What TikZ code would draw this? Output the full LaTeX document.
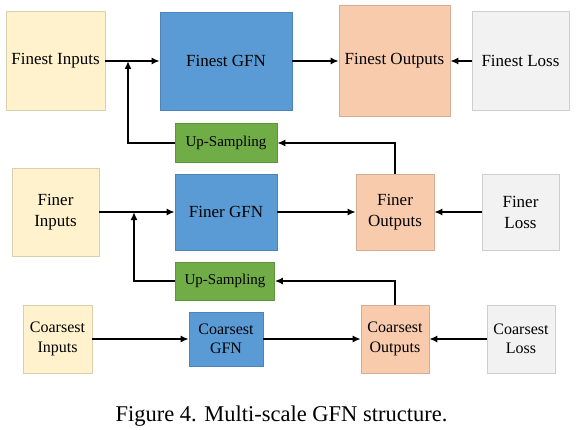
\documentclass[tikz,border=0pt]{standalone}
\usepackage{fontspec}
\setmainfont{Liberation Serif}
\usetikzlibrary{arrows.meta}
\definecolor{inputcol}{HTML}{FFF2CC}
\definecolor{gfncol}{HTML}{5B9BD5}
\definecolor{outcol}{HTML}{F8CBAD}
\definecolor{losscol}{HTML}{F2F2F2}
\definecolor{upcol}{HTML}{70AD47}
\begin{document}
\begin{tikzpicture}[
    x=1pt, y=-1pt,
    every node/.style={align=center, inner sep=0pt, font=\fontsize{17}{21}\selectfont},
    box/.style={draw=#1!85!black, line width=0.6pt, fill=#1},
    inbox/.style={box=inputcol},
    gfnbox/.style={box=gfncol},
    outbox/.style={box=outcol},
    lossbox/.style={box=losscol},
    upbox/.style={box=upcol, font=\fontsize{15}{18}\selectfont},
    small/.style={font=\fontsize{16}{19.5}\selectfont},
    link/.style={-{Latex[length=8pt,width=7pt]}, line width=1.8pt}
]
\useasboundingbox (0,0) rectangle (577,430);
\node[inbox, minimum width=99, minimum height=99] (inF) at (55.5,61) {Finest Inputs};
\node[gfnbox, minimum width=132, minimum height=98] (gfnF) at (226,61) {Finest GFN};
\node[outbox, minimum width=111, minimum height=111] (outF) at (394.5,61) {Finest Outputs};
\node[lossbox, minimum width=97, minimum height=99] (lossF) at (520.5,61) {Finest Loss};
\node[upbox, minimum width=102, minimum height=39] (upF) at (226,143) {Up-Sampling};
\node[inbox, minimum width=87, minimum height=88] (inM) at (55.5,212) {Finer\\Inputs};
\node[gfnbox, minimum width=102, minimum height=76] (gfnM) at (226,212) {Finer GFN};
\node[outbox, minimum width=78, minimum height=76] (outM) at (395,212) {Finer\\Outputs};
\node[lossbox, minimum width=77, minimum height=76] (lossM) at (520.5,212) {Finer\\Loss};
\node[upbox, minimum width=99, minimum height=38] (upM) at (225,281) {Up-Sampling};
\node[inbox, small, minimum width=69, minimum height=68] (inC) at (57.5,339) {Coarsest\\Inputs};
\node[gfnbox, small, minimum width=74, minimum height=54] (gfnC) at (226,339) {Coarsest\\GFN};
\node[outbox, small, minimum width=68, minimum height=68] (outC) at (395,339) {Coarsest\\Outputs};
\node[lossbox, small, minimum width=68, minimum height=68] (lossC) at (521,339) {Coarsest\\Loss};
\coordinate (jF) at (128,61);
\coordinate (jM) at (134,212);
\draw[link] (inF) -- (gfnF);
\draw[link] (gfnF) -- (outF);
\draw[link] (lossF) -- (outF);
\draw[link] (upF.west) -| (jF);
\draw[link] (outM.north) |- (upF.east);
\draw[link] (inM) -- (gfnM);
\draw[link] (gfnM) -- (outM);
\draw[link] (lossM) -- (outM);
\draw[link] (upM.west) -| (jM);
\draw[link] (outC.north) |- (upM.east);
\draw[link] (inC) -- (gfnC);
\draw[link] (gfnC) -- (outC);
\draw[link] (lossC) -- (outC);
\node[anchor=base, font=\fontsize{22.5}{27}\selectfont] (caption) at (281.5,421) {Figure 4. Multi-scale GFN structure.};
\end{tikzpicture}
\end{document}
